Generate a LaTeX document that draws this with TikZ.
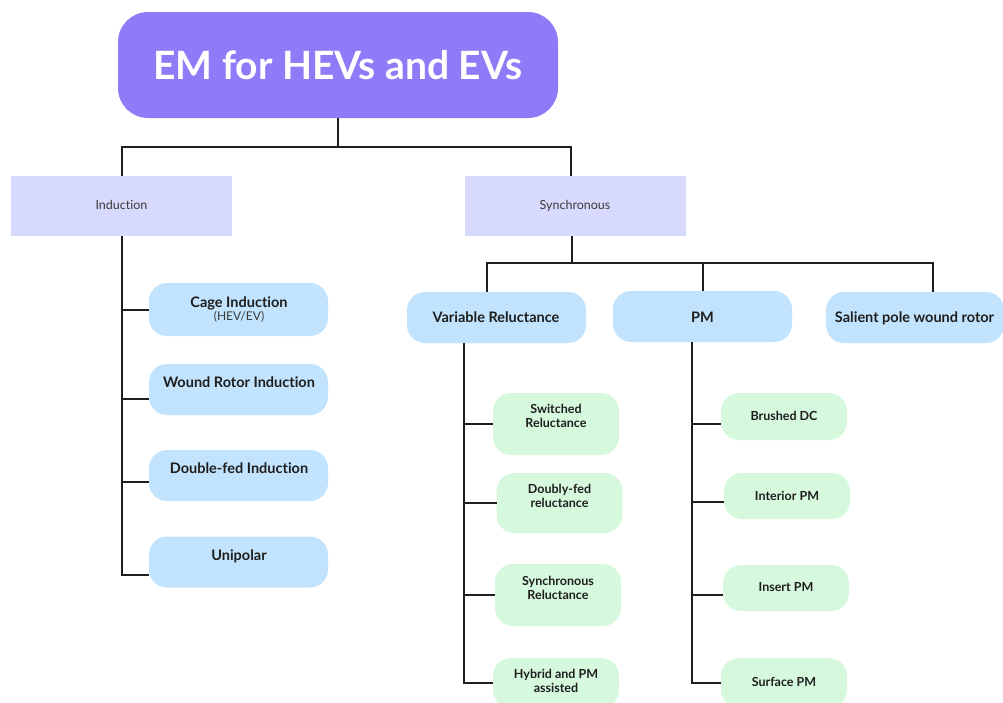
\documentclass[tikz,border=0pt]{standalone}
\usepackage{fontspec}
\setmainfont{Lato}[Ligatures=NoCommon]
\definecolor{cTitle}{HTML}{8F7BF8}
\definecolor{cLav}{HTML}{D8DAFD}
\definecolor{cBlue}{HTML}{C1E3FD}
\definecolor{cGreen}{HTML}{D6F9DD}
\definecolor{cInk}{HTML}{1E1E1E}
\definecolor{cGray}{HTML}{3A3A3A}
\begin{document}
\begin{tikzpicture}[x=1pt,y=-1pt,
  conn/.style={draw=cInk, line width=2pt},
  boxbase/.style={inner sep=0pt, outer sep=0pt},
  titlebox/.style={boxbase, fill=cTitle, rounded corners=30pt, minimum width=440pt, minimum height=106pt},
  lavbox/.style={boxbase, fill=cLav, minimum width=221pt, minimum height=60pt},
  bluebox/.style={boxbase, fill=cBlue, rounded corners=18pt, minimum width=179pt, minimum height=51pt},
  greenbox/.style={boxbase, fill=cGreen, rounded corners=18pt, minimum width=126pt},
  titletxt/.style={inner sep=0pt, anchor=base, text=white, font=\bfseries\fontsize{39}{44}\selectfont},
  lavtxt/.style={inner sep=0pt, anchor=base, text=cGray, font=\fontsize{12.5}{14}\selectfont},
  bluetxt/.style={inner sep=0pt, anchor=base, text=cInk, font=\bfseries\fontsize{14.5}{17}\selectfont},
  smalltxt/.style={inner sep=0pt, anchor=base, text=cGray, font=\fontsize{12}{14}\selectfont},
  greentxt/.style={inner sep=0pt, anchor=base, text=cInk, font=\bfseries\fontsize{12.5}{14}\selectfont}
]
\path[use as bounding box] (0,0) rectangle (1003,702);
\clip (0,0) rectangle (1003,702);

% ---- boxes ----
\node[titlebox] (title) at (338,65) {};
\node[lavbox] (ind) at (121.5,206) {};
\node[lavbox] (syn) at (575.5,206) {};

\node[bluebox, minimum height=53pt] (cage) at (238.5,309.5) {};
\node[bluebox] (wound) at (238.5,389.5) {};
\node[bluebox] (dfed) at (238.5,475.5) {};
\node[bluebox] (unip) at (238.5,562) {};

\node[bluebox] (vr) at (496.5,317.5) {};
\node[bluebox] (pm) at (702.5,316.5) {};
\node[bluebox, minimum width=178pt] (sal) at (915,317.5) {};

\node[greenbox, minimum height=62pt] (sw) at (556,424) {};
\node[greenbox, minimum height=60pt] (dr) at (559.5,503) {};
\node[greenbox, minimum height=62pt] (sr) at (558,595) {};
\node[greenbox, minimum height=50pt] (hy) at (556,683) {};

\node[greenbox, minimum height=47pt] (bd) at (784,416.5) {};
\node[greenbox, minimum height=46pt] (ip) at (787,496) {};
\node[greenbox, minimum height=46pt] (ins) at (786,588) {};
\node[greenbox, minimum height=50pt] (sp) at (784,683) {};

% ---- connectors ----
\coordinate (j0) at (338,147);
\draw[conn] (title.south) -- (j0);
\draw[conn] ([xshift=0.5pt]ind.north) |- (j0) -| ([xshift=-5pt]syn.north);

\coordinate (jind) at (121.5,575);
\draw[conn] (ind.south) -- (jind) -- ([yshift=-13pt]unip.west);
\draw[conn] (ind.south |- cage.west) -- (cage.west);
\draw[conn] (ind.south |- 0,399) -- ([yshift=-9.5pt]wound.west);
\draw[conn] (ind.south |- 0,482) -- ([yshift=-6.5pt]dfed.west);

\coordinate (j1) at (572,263);
\draw[conn] ([xshift=-3.5pt]syn.south) -- (j1);
\draw[conn] ([xshift=-9.5pt]vr.north) |- (j1) -| ([xshift=18pt]sal.north);
\draw[conn] (pm.north) -- (pm.north |- j1);

\coordinate (jvr) at (464,683);
\draw[conn] ([xshift=-32.5pt]vr.south) -- (jvr) -- (hy.west |- jvr);
\draw[conn] (jvr |- sw.west) -- (sw.west);
\draw[conn] (jvr |- dr.west) -- (dr.west);
\draw[conn] (jvr |- sr.west) -- (sr.west);

\coordinate (jpm) at (692,683);
\draw[conn] ([xshift=-10.5pt]pm.south) -- (jpm) -- (sp.west |- jpm);
\draw[conn] (jpm |- 0,424) -- ([yshift=-7.5pt]bd.west);
\draw[conn] (jpm |- 0,502) -- ([yshift=-6pt]ip.west);
\draw[conn] (jpm |- 0,595) -- ([yshift=-7pt]ins.west);

% ---- texts ----
\node[titletxt] (t-title) at (338,79) {EM for HEVs and EVs};
\node[lavtxt] (t-ind) at (121.5,209) {Induction};
\node[lavtxt] (t-syn) at (575,209) {Synchronous};

\node[bluetxt] (t-cage) at (239,307) {Cage Induction};
\node[smalltxt] (t-cage2) at (239,320.5) {(HEV/EV)};
\node[bluetxt] (t-wound) at (239,387) {Wound Rotor Induction};
\node[bluetxt] (t-dfed) at (239,473) {Double-fed Induction};
\node[bluetxt] (t-unip) at (239,560) {Unipolar};

\node[bluetxt] (t-vr) at (496,322) {Variable Reluctance};
\node[bluetxt] (t-pm) at (702.5,322) {PM};
\node[bluetxt] (t-sal) at (914.5,322.5) {Salient pole wound rotor};

\node[greentxt] (t-sw1) at (556,413) {Switched};
\node[greentxt] (t-sw2) at (556,427) {Reluctance};
\node[greentxt] (t-dr1) at (559.5,493) {Doubly-fed};
\node[greentxt] (t-dr2) at (559.5,507) {reluctance};
\node[greentxt] (t-sr1) at (558,585) {Synchronous};
\node[greentxt] (t-sr2) at (558,599) {Reluctance};
\node[greentxt] (t-hy1) at (556,678) {Hybrid and PM};
\node[greentxt] (t-hy2) at (556,692) {assisted};

\node[greentxt] (t-bd) at (784,420) {Brushed DC};
\node[greentxt] (t-ip) at (787,500) {Interior PM};
\node[greentxt] (t-ins) at (786,591.5) {Insert PM};
\node[greentxt] (t-sp) at (784,686) {Surface PM};
\end{tikzpicture}
\end{document}
